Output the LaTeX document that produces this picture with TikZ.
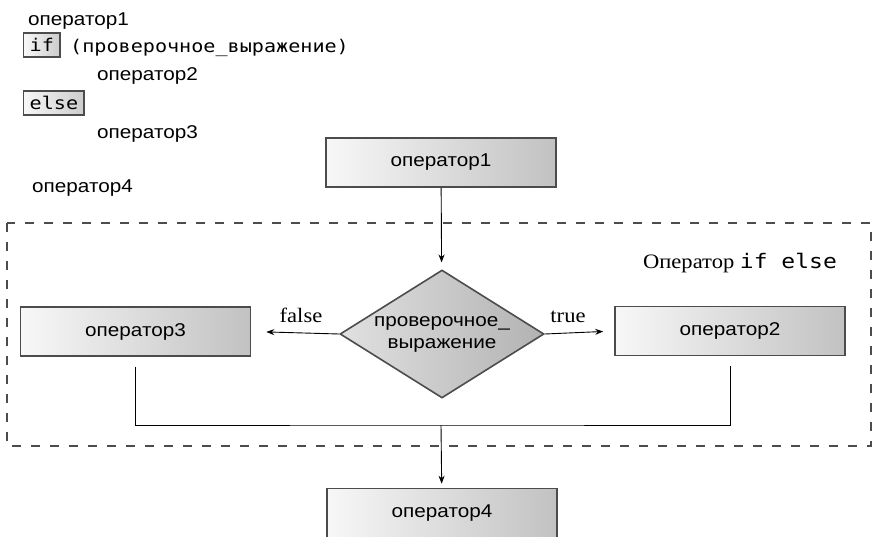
\documentclass[tikz,border=0pt]{standalone}
\usepackage{fontspec}
\setmainfont{Liberation Sans}[FakeStretch=1.12]
\setmonofont{DejaVu Sans Mono}[FakeStretch=1.15]
\newfontfamily\seriffam{Liberation Serif}[FakeStretch=1.1]
\usetikzlibrary{arrows.meta,shapes.geometric}
\tikzset{
BOX/.style ={draw=black!70,line width=1.6pt,left color=black!3,right color=black!24,minimum width=230pt,minimum height=49pt,inner sep=0pt,font=\fontsize{18.5}{22}\selectfont},
COND/.style ={BOX,shape=diamond,aspect=1.6,minimum width=204pt,minimum height=128pt,align=center,left color=black!12,right color=black!30},
CODE/.style ={draw=black!70,line width=1.4pt,left color=black!3,right color=black!20,inner xsep=6pt,inner ysep=0pt,minimum height=24pt,anchor=west,font=\ttfamily\fontsize{17.5}{20}\selectfont},
TEXT/.style ={inner sep=0pt,anchor=base west,font=\fontsize{18.5}{22}\selectfont},
LABEL/.style ={inner sep=0pt,anchor=base,font=\seriffam\fontsize{20.5}{24}\selectfont},
LINE/.style ={draw=black,line width=0.9pt},
ARROW/.style ={LINE,-{Stealth[length=8pt,width=6pt]}},
FRAME/.style ={draw=black!70,line width=2pt,dash pattern=on 9pt off 10pt},
}
\begin{document}
\begin{tikzpicture}[x=1pt,y=-1pt] %if else
	\path[use as bounding box] (0,0) rectangle (876,536);
	\path[FRAME] (7,223) rectangle (871,446);
	\node[TEXT] (l1) at (28,25) {оператор1};
	\node[CODE] (lif) at (23,45) {if};
	\node[TEXT,font=\ttfamily\fontsize{17.5}{20}\selectfont] (lcond) at (70,52) {(проверочное\_выражение)};
	\node[TEXT] (l2) at (97,80) {оператор2};
	\node[CODE] (lelse) at (23,103) {else};
	\node[TEXT] (l3) at (97,138) {оператор3};
	\node[TEXT] (l4) at (32,192) {оператор4};
	\node[BOX] (op1) at (441,162.5) {оператор1};
	\node[COND] (cond) at (442,334) {проверочное\_\\выражение};
	\node[BOX] (op3) at (135.5,331.5) {оператор3};
	\node[BOX] (op2) at (730,331) {оператор2};
	\node[BOX] (op4) at (442,513) {оператор4};
	\node[LABEL] (title) at (740,268) {Оператор {\ttfamily\fontsize{20}{24}\selectfont if else}};
	\node[LABEL] (lfalse) at (301,322) {false};
	\node[LABEL] (ltrue) at (568,322) {true};
	\coordinate (join) at (441,425);
	\path[ARROW,shorten >=7pt] (op1) -- (cond);
	\path[ARROW,shorten >=15pt] (cond.west) -- (op3.east);
	\path[ARROW,shorten >=11pt] (cond.east) -- (op2.west);
	\path[LINE,shorten <=10pt,shorten >=10pt] (op3.south) |- (join) -| (op2.south);
	\path[ARROW,shorten >=4pt] (join) -- (op4);
\end{tikzpicture}
\end{document}
